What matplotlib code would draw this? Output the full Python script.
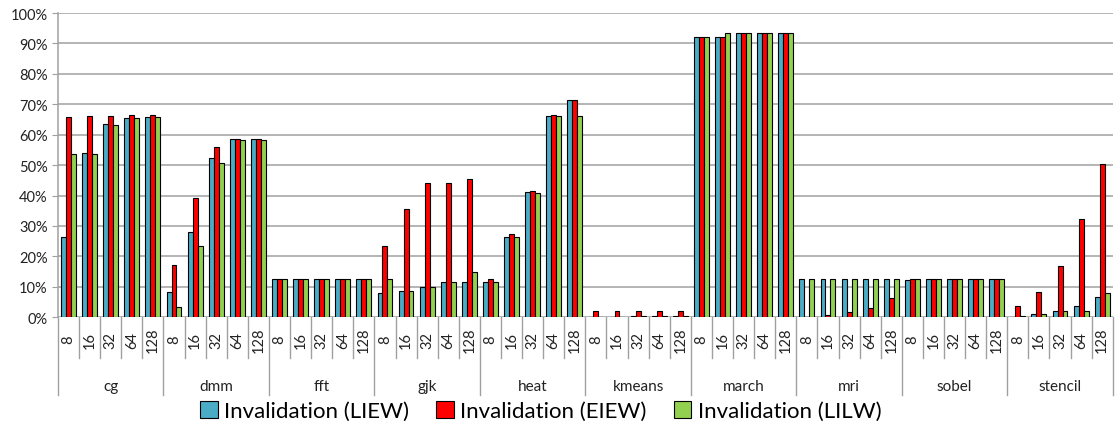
import numpy as np
import matplotlib
matplotlib.use('Agg')
import matplotlib.pyplot as plt
import matplotlib.transforms as mtransforms

plt.rcParams['font.family'] = ['Lato', 'DejaVu Sans']

benchmarks = ['cg', 'dmm', 'fft', 'gjk', 'heat', 'kmeans', 'march', 'mri', 'sobel', 'stencil']
sizes = ['8', '16', '32', '64', '128']
series = ['Invalidation (LIEW)', 'Invalidation (EIEW)', 'Invalidation (LILW)']
colors = ['#4BACC6', '#FF0000', '#92D050']

# percent of invalidations, one row per benchmark, one value per size
liew = [
    [26.3, 54.0, 63.4, 65.4, 65.7],
    [8.2, 27.9, 52.4, 58.5, 58.6],
    [12.5, 12.5, 12.5, 12.5, 12.5],
    [7.9, 8.7, 9.9, 11.6, 11.6],
    [11.5, 26.4, 41.1, 66.3, 71.4],
    [0.1, 0.2, 0.3, 0.4, 0.5],
    [92.0, 92.0, 93.5, 93.5, 93.5],
    [12.5, 12.5, 12.5, 12.5, 12.5],
    [12.3, 12.5, 12.5, 12.5, 12.5],
    [0.2, 1.0, 2.0, 3.8, 6.6],
]
eiew = [
    [65.7, 66.0, 66.0, 66.5, 66.5],
    [17.1, 39.1, 55.9, 58.5, 58.6],
    [12.5, 12.5, 12.5, 12.5, 12.5],
    [23.3, 35.5, 44.0, 44.0, 45.5],
    [12.6, 27.3, 41.5, 66.6, 71.4],
    [1.9, 1.9, 1.9, 1.9, 1.9],
    [92.0, 92.0, 93.5, 93.5, 93.5],
    [0.1, 0.8, 1.6, 3.1, 6.2],
    [12.4, 12.5, 12.5, 12.5, 12.5],
    [3.8, 8.2, 16.8, 32.2, 50.4],
]
lilw = [
    [53.7, 53.7, 63.3, 65.4, 65.7],
    [3.4, 23.5, 50.7, 58.3, 58.3],
    [12.5, 12.5, 12.5, 12.5, 12.5],
    [12.5, 8.7, 9.9, 11.6, 14.9],
    [11.4, 26.2, 40.9, 66.3, 66.3],
    [0.1, 0.1, 0.4, 0.3, 0.3],
    [92.0, 93.4, 93.5, 93.5, 93.5],
    [12.5, 12.5, 12.5, 12.5, 12.5],
    [12.4, 12.5, 12.5, 12.5, 12.5],
    [0.3, 1.0, 2.0, 2.0, 7.9],
]

fig = plt.figure(figsize=(11.15, 4.27), dpi=100)
ax = fig.add_axes([0.052, 0.255, 0.946, 0.712])

n = len(benchmarks) * len(sizes)
x = np.arange(n)
w = 0.235
for k, (vals, col, name) in enumerate(zip([liew, eiew, lilw], colors, series)):
    flat = np.array(vals).ravel()
    ax.bar(x + (k - 1) * w, flat, w, color=col, edgecolor='black', linewidth=0.8, label=name, zorder=3)

ax.set_xlim(-0.5, n - 0.5)
ax.set_ylim(0, 100)
ax.set_yticks(np.arange(0, 101, 10))
ax.set_yticklabels([f'{v}%' for v in range(0, 101, 10)], fontsize=10.5, color='#222222')
ax.yaxis.grid(True, color='#A0A0A0', linewidth=1.1, zorder=0)
ax.tick_params(axis='y', length=4, color='#A0A0A0')
ax.set_xticks([])
for s in ['top', 'right', 'bottom']:
    ax.spines[s].set_visible(False)
ax.spines['left'].set_color('#A0A0A0')
ax.spines['left'].set_linewidth(1.1)

# two-level category axis drawn by hand
trans = mtransforms.blended_transform_factory(ax.transData, ax.transAxes)
for i in range(n + 1):
    bottom = -0.256 if i % len(sizes) == 0 else -0.134
    ax.plot([i - 0.5, i - 0.5], [0, bottom], color='#A0A0A0', linewidth=1,
            transform=trans, clip_on=False)
for i in range(n):
    ax.text(i, -0.072, sizes[i % len(sizes)], transform=trans, rotation=90,
            ha='center', va='center', fontsize=10.5, color='#222222')
for g, name in enumerate(benchmarks):
    ax.text(g * len(sizes) + 2, -0.225, name, transform=trans,
            ha='center', va='center', fontsize=11, color='#222222')

fig.legend(loc='center', bbox_to_anchor=(0.485, 0.035), ncol=3, frameon=False,
           fontsize=16, handlelength=0.8, handleheight=0.8, handletextpad=0.3,
           columnspacing=1.2)

fig.savefig('out.png', dpi=100)
